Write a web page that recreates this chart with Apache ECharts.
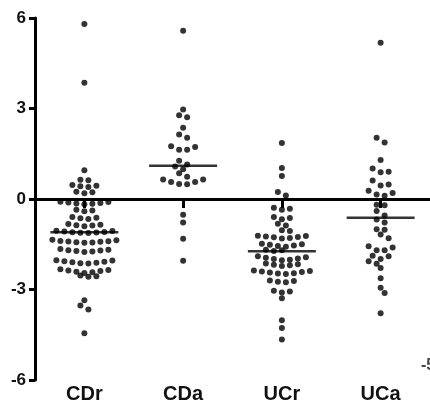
<!DOCTYPE html>
<html>
<head>
<meta charset="utf-8">
<script src="https://cdn.jsdelivr.net/npm/echarts@6/dist/echarts.min.js"></script>
<style>
  html, body { margin: 0; padding: 0; background: #fff; }
  #chart { width: 430px; height: 406px; }
</style>
</head>
<body>
<div id="chart"></div>
<script>
// groups on the x axis
const categories = ['CDr', 'CDa', 'UCr', 'UCa']

// values, one array per group
const cdr = [
  5.80, 3.85,
  0.95,
  0.64, 0.62,
  0.46, 0.44, 0.42, 0.40,
  0.24, 0.22, 0.19,
  -0.09, -0.10, -0.12, -0.13, -0.15, -0.16, -0.17,
  -0.36, -0.38, -0.41,
  -0.60, -0.62, -0.64, -0.66,
  -0.83, -0.85, -0.87, -0.88, -0.90,
  -1.05, -1.06, -1.08, -1.09, -1.10, -1.11, -1.12, -1.13,
  -1.35, -1.37, -1.39, -1.40, -1.41, -1.42, -1.43, -1.44, -1.45,
  -1.66, -1.68, -1.70, -1.71, -1.72, -1.74, -1.76,
  -2.03, -2.04, -2.06, -2.08, -2.10, -2.11, -2.13, -2.14,
  -2.33, -2.35, -2.37, -2.39, -2.41, -2.43, -2.45,
  -2.54, -2.56, -2.58,
  -3.36, -3.53, -3.66, -4.45
]
const cda = [
  5.58, 2.97, 2.78, 2.71, 2.36, 2.14, 2.03,
  1.75, 1.72, 1.63, 1.63,
  1.27, 1.14, 1.08, 0.99, 0.85, 0.74,
  0.65, 0.65, 0.56, 0.56, 0.50, 0.49,
  -0.52, -0.78, -1.32, -2.05
]
const ucr = [
  1.86, 1.03, 0.76,
  0.23, 0.12,
  -0.29, -0.32, -0.36,
  -0.60, -0.63, -0.67,
  -0.82, -0.88,
  -1.04, -1.06,
  -1.22, -1.23, -1.24, -1.26, -1.27, -1.29, -1.31,
  -1.48, -1.50, -1.52, -1.54, -1.56, -1.58,
  -1.68, -1.70, -1.72,
  -1.90, -1.93, -1.95, -1.97, -1.99, -2.01, -2.03,
  -2.14, -2.16, -2.18, -2.20, -2.22,
  -2.37, -2.39, -2.40, -2.42, -2.44, -2.46, -2.47, -2.49,
  -2.70, -2.72, -2.74, -2.76,
  -3.04, -3.07, -3.10,
  -3.29, -4.02, -4.28, -4.66
]
const uca = [
  5.18, 2.03, 1.87, 1.29,
  1.01, 0.90, 0.89,
  0.61, 0.48, 0.45,
  0.27, 0.20, 0.15, 0.11,
  -0.19, -0.21, -0.40,
  -0.55, -0.68, -0.78,
  -1.00, -1.02, -1.18, -1.30,
  -1.57, -1.61, -1.70, -1.70,
  -1.88, -1.90, -1.99, -2.06, -2.15, -2.29,
  -2.63, -2.94, -3.12, -3.79
]
const groups = [cdr, cda, ucr, uca]

// median bar of each group
const medians = [-1.1, 1.1, -1.73, -0.62]

// y axis range and step
const yMin = -6
const yMax = 6
const yStep = 3

const font = 'Liberation Sans, Arial, sans-serif'

const chart = echarts.init(document.getElementById('chart'))

chart.setOption({
  animation: false,
  backgroundColor: '#fff',
  grid: { left: 35, right: -5, top: 18, bottom: 26 },
  xAxis: [
    {
      // the axis line sitting on y = 0, with a tick under each group
      type: 'category',
      data: categories,
      boundaryGap: true,
      axisLine: { onZero: true, lineStyle: { color: '#000', width: 3 } },
      axisTick: {
        show: true,
        interval: 0,
        alignWithLabel: true,
        length: 9,
        lineStyle: { color: '#000', width: 3 },
      },
      axisLabel: { show: true, interval: 0, color: 'rgba(0,0,0,0)' },
      splitLine: { show: false },
      z: 4,
    },
    {
      // group names at the bottom
      type: 'category',
      data: categories,
      position: 'bottom',
      boundaryGap: true,
      axisLine: { show: false, onZero: false },
      axisTick: { show: false },
      axisLabel: {
        color: '#111',
        fontSize: 20,
        fontWeight: 'bold',
        fontFamily: font,
        margin: 4,
      },
    },
  ],
  yAxis: {
    type: 'value',
    min: yMin,
    max: yMax,
    interval: yStep,
    axisLine: { show: true, lineStyle: { color: '#000', width: 3 } },
    axisTick: { show: true, length: 6, lineStyle: { color: '#000', width: 3 } },
    axisLabel: {
      color: '#111',
      fontSize: 17,
      fontWeight: 'bold',
      fontFamily: font,
      margin: 9,
    },
    splitLine: { show: false },
  },
  graphic: [
    {
      type: 'text',
      left: 421,
      top: 358,
      style: { text: '-5', font: 'bold 16px ' + font, fill: '#444' },
    },
  ],
  series: [
    ...groups.map((vals, i) => ({
      type: 'scatter',
      xAxisIndex: 0,
      symbolSize: 6,
      itemStyle: { color: '#000' },
      data: vals.map((v) => [i, v]),
      z: 3,
    })),
    {
      type: 'scatter',
      xAxisIndex: 0,
      symbol: 'rect',
      symbolSize: [68, 2.5],
      itemStyle: { color: '#000' },
      data: medians.map((m, i) => [i, m]),
      z: 5,
    },
  ],
})

// Prism-like swarm: sorted values go into rows, each row spread round the centre,
// lowest value in the middle so the rows curve a little
const pxPerUnit =
  chart.convertToPixel({ yAxisIndex: 0 }, 0) - chart.convertToPixel({ yAxisIndex: 0 }, 1)

const swarm = (vals) => {
  const rowH = 5
  const step = 8
  const minDist = 5.5
  const order = vals.map((v, j) => j).sort((a, b) => vals[b] - vals[a])
  const rows = []
  let cur = null
  order.forEach((j) => {
    const y = vals[j] * pxPerUnit
    if (!cur || cur.top - y >= rowH) {
      cur = { top: y, items: [] }
      rows.push(cur)
    }
    cur.items.push(j)
  })

  const offs = new Array(vals.length).fill(0)
  const placed = []
  rows.forEach((r) => {
    const n = r.items.length
    const slots = Array.from({ length: n }, (_, k) => (k - (n - 1) / 2) * step)
      .sort((a, b) => Math.abs(a) - Math.abs(b) || b - a)
    const items = r.items.slice().sort((a, b) => vals[a] - vals[b])
    let best = 0
    let bestHits = Infinity
    for (const s of [0, 4, -4, 8, -8, 12, -12]) {
      let hits = 0
      items.forEach((j, k) => {
        const x = slots[k] + s
        const y = vals[j] * pxPerUnit
        placed.forEach((p) => {
          if (Math.hypot(p.x - x, p.y - y) < minDist) hits++
        })
      })
      if (hits < bestHits) {
        bestHits = hits
        best = s
      }
      if (hits === 0) break
    }
    items.forEach((j, k) => {
      const x = slots[k] + best
      offs[j] = x
      placed.push({ x, y: vals[j] * pxPerUnit })
    })
  })
  return offs
}

chart.setOption({
  series: groups.map((vals, i) => {
    const offs = swarm(vals)
    return {
      data: vals.map((v, j) => ({ value: [i, v], symbolOffset: [offs[j], 0] })),
    }
  }),
})
</script>
</body>
</html>
